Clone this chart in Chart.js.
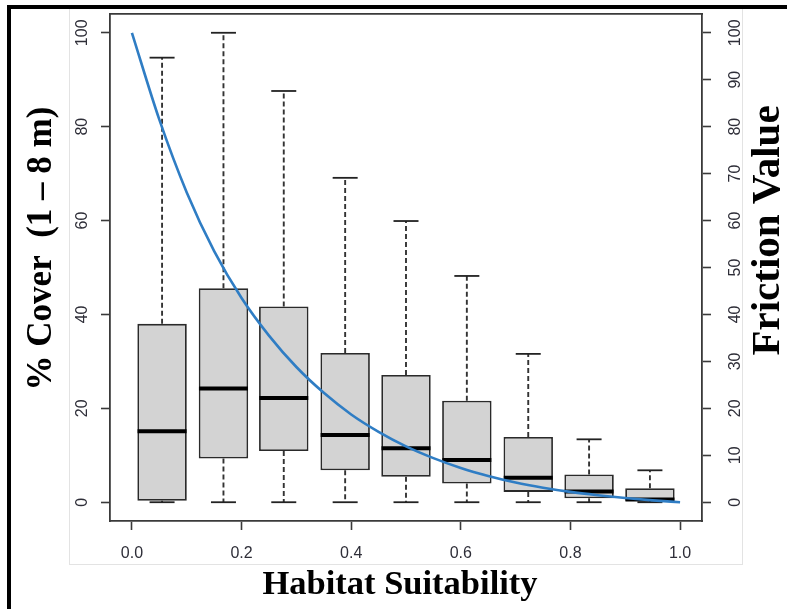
<!DOCTYPE html>
<html>
<head>
<meta charset="utf-8">
<script src="https://cdn.jsdelivr.net/npm/chart.js@4.4.1/dist/chart.umd.min.js"></script>
<style>
  html, body { margin: 0; padding: 0; background: #ffffff; }
  body { width: 787px; height: 609px; position: relative; overflow: hidden; }
  #frame { position: absolute; left: 7px; top: 5px; width: 790px; height: 620px;
           border-top: 4px solid #000; border-left: 4px solid #000; box-sizing: border-box; }
  #inset { position: absolute; left: 69px; top: 9px; width: 674px; height: 556px;
           border: 1px solid #e3e3e3; border-top: none; box-sizing: border-box; }
  #c { position: absolute; left: 0; top: 0; }
</style>
</head>
<body>
<div id="frame"></div>
<div id="inset"></div>
<canvas id="c" width="787" height="609"></canvas>
<script>
// ---- data ----
const boxX       = [0.055, 0.167, 0.277, 0.389, 0.500, 0.611, 0.723, 0.834, 0.945];
const whiskerMax = [94.7, 100.0, 87.6, 69.1, 59.9, 48.2, 31.6, 13.4, 6.8];
const q3         = [38.0, 45.6, 41.7, 31.8, 27.1, 21.6, 13.9, 5.9, 3.0];
const medians    = [15.1, 24.2, 22.2, 14.3, 11.5, 9.0, 5.2, 2.3, 0.6];
const q1         = [0.3, 9.3, 10.9, 6.8, 5.4, 4.0, 2.2, 0.85, 0.3];
const whiskerMin = [0, 0, 0, 0, 0, 0, 0, 0, 0];

const frictionX = [0, 0.05, 0.10, 0.15, 0.20, 0.25, 0.30, 0.35, 0.40, 0.45, 0.50,
                   0.55, 0.60, 0.65, 0.70, 0.75, 0.80, 0.85, 0.90, 0.95, 1.00];
const frictionY = [100, 81.5, 66.0, 53.5, 43.5, 35.5, 28.8, 23.3, 18.7, 15.0, 11.9,
                   9.4, 7.3, 5.6, 4.2, 3.1, 2.2, 1.5, 0.9, 0.4, 0];

const xTicks      = [0, 0.2, 0.4, 0.6, 0.8, 1.0];
const leftTicks   = [0, 20, 40, 60, 80, 100];
const rightTicks  = [0, 10, 20, 30, 40, 50, 60, 70, 80, 90, 100];

const xTitle     = 'Habitat Suitability';
const leftTitle  = '% Cover  (1 \u2013 8 m)';
const rightTitle = 'Friction Value';

// ---- derived datasets ----
const boxData = boxX.map((x, i) => ({ x: x, y: [q1[i], q3[i]] }));
const medianData = boxX.map((x, i) => ({ x: x, y: medians[i] }));
const capData = [];
boxX.forEach((x, i) => { capData.push({ x: x, y: whiskerMax[i] }); capData.push({ x: x, y: whiskerMin[i] }); });
const whiskerData = [];
boxX.forEach((x, i) => {
  whiskerData.push({ x: x, y: q3[i] }, { x: x, y: whiskerMax[i] }, { x: x, y: null });
  whiskerData.push({ x: x, y: q1[i] }, { x: x, y: whiskerMin[i] }, { x: x, y: null });
});
const curveData = frictionX.map((x, i) => ({ x: x, y: frictionY[i] }));

const AXIS_COLOR = '#3a3a3a';
const TICK_FONT = { family: '"Liberation Sans", Arial, sans-serif', size: 16 };
const TICK_COLOR = '#2e2e38';

function setTicks(values) {
  return function (scale) { scale.ticks = values.map(v => ({ value: v })); };
}
function fixVertical(width) {
  return function (scale) {
    scale.width = width;
    scale.paddingTop = 0; scale.paddingBottom = 0;
  };
}

const titlesPlugin = {
  id: 'titles',
  afterDraw(chart) {
    const ctx = chart.ctx;
    const area = chart.chartArea;
    ctx.save();
    ctx.fillStyle = '#000';
    ctx.textAlign = 'center';
    ctx.textBaseline = 'middle';
    // bottom title
    ctx.font = 'bold 34.5px "Liberation Serif", "Times New Roman", serif';
    ctx.fillText(xTitle, area.left + 290, 585);
    // left title
    ctx.save();
    ctx.translate(42, area.top + 234.5);
    ctx.rotate(-Math.PI / 2);
    ctx.font = 'bold 35px "Liberation Serif", "Times New Roman", serif';
    ctx.fillText(leftTitle, 0, 0);
    ctx.restore();
    // right title
    ctx.save();
    ctx.translate(area.right + 66.5, area.top + 216.5);
    ctx.rotate(-Math.PI / 2);
    ctx.font = 'bold 41px "Liberation Serif", "Times New Roman", serif';
    ctx.fillText(rightTitle, 0, 0);
    ctx.restore();
    ctx.restore();
  }
};

new Chart(document.getElementById('c'), {
  type: 'bar',
  data: {
    datasets: [
      {
        type: 'line', data: curveData, xAxisID: 'x', yAxisID: 'y2', order: 0,
        borderColor: '#2f7dc4', borderWidth: 2.6, pointRadius: 0,
        cubicInterpolationMode: 'monotone', fill: false
      },
      {
        type: 'line', data: medianData, xAxisID: 'x', yAxisID: 'y', order: 1,
        showLine: false, pointStyle: 'line', pointRadius: 24.5, pointBorderWidth: 4,
        pointBorderColor: '#000', borderColor: '#000'
      },
      {
        type: 'line', data: capData, xAxisID: 'x', yAxisID: 'y', order: 2,
        showLine: false, pointStyle: 'line', pointRadius: 12.5, pointBorderWidth: 1.8,
        pointBorderColor: '#222', borderColor: '#222'
      },
      {
        type: 'line', data: whiskerData, xAxisID: 'x', yAxisID: 'y', order: 3,
        borderColor: '#333', borderWidth: 1.9, borderDash: [5, 3], pointRadius: 0,
        spanGaps: false, tension: 0, fill: false
      },
      {
        type: 'bar', data: boxData, xAxisID: 'x', yAxisID: 'y', order: 4,
        backgroundColor: '#d3d3d3', borderColor: '#2a2a2a', borderWidth: 1.8,
        borderSkipped: false, barPercentage: 0.82, categoryPercentage: 1.0
      }
    ]
  },
  options: {
    responsive: false,
    animation: false,
    devicePixelRatio: 1,
    layout: { autoPadding: false, padding: { top: 14, left: 0, right: 0, bottom: 0 } },
    plugins: { legend: { display: false }, tooltip: { enabled: false } },
    scales: {
      x: {
        type: 'linear', position: 'bottom', min: -0.04, max: 1.04, offset: false,
        afterBuildTicks: setTicks(xTicks),
        afterFit(scale) { scale.height = 88; scale.paddingLeft = 0; scale.paddingRight = 0; },
        grid: { display: true, drawOnChartArea: false, drawTicks: true, tickLength: 9,
                tickColor: AXIS_COLOR, tickWidth: 1.6, offset: false },
        border: { display: true, color: AXIS_COLOR, width: 1.8 },
        ticks: { font: TICK_FONT, color: TICK_COLOR, padding: 14, maxRotation: 0,
                 callback: v => Number(v).toFixed(1) }
      },
      xTop: {
        type: 'linear', position: 'top', min: -0.04, max: 1.04, offset: false,
        afterFit(scale) { scale.height = 0; scale.paddingLeft = 0; scale.paddingRight = 0; },
        grid: { display: false, drawOnChartArea: false, drawTicks: false },
        border: { display: true, color: AXIS_COLOR, width: 1.8 },
        ticks: { display: false }
      },
      y: {
        type: 'linear', position: 'left', min: -4, max: 104,
        afterBuildTicks: setTicks(leftTicks),
        afterFit: fixVertical(110),
        grid: { display: true, drawOnChartArea: false, drawTicks: true, tickLength: 9,
                tickColor: AXIS_COLOR, tickWidth: 1.6 },
        border: { display: true, color: AXIS_COLOR, width: 1.8 },
        ticks: { font: TICK_FONT, color: TICK_COLOR, padding: 5, minRotation: 90, maxRotation: 90,
                 crossAlign: 'center', callback: v => String(v) }
      },
      y2: {
        type: 'linear', position: 'right', min: -4, max: 104,
        afterBuildTicks: setTicks(rightTicks),
        afterFit: fixVertical(85),
        grid: { display: true, drawOnChartArea: false, drawTicks: true, tickLength: 9,
                tickColor: AXIS_COLOR, tickWidth: 1.6 },
        border: { display: true, color: AXIS_COLOR, width: 1.8 },
        ticks: { font: TICK_FONT, color: TICK_COLOR, padding: 11, minRotation: 90, maxRotation: 90,
                 crossAlign: 'center', callback: v => String(v) }
      }
    }
  },
  plugins: [titlesPlugin]
});
</script>
</body>
</html>
